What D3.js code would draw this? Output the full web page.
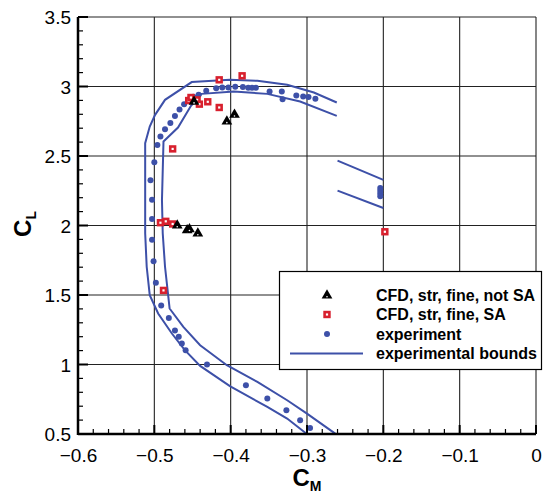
<!DOCTYPE html>
<html>
<head>
<meta charset="utf-8">
<script src="https://cdn.jsdelivr.net/npm/d3@7"></script>
<style>
  body { margin: 0; background: #fff; }
  svg text { font-family: "Liberation Sans", Arial, Helvetica, sans-serif; }
</style>
</head>
<body>
<div id="graph"></div>
<script>
/* chart values */
const xTicks = [-0.6, -0.5, -0.4, -0.3, -0.2, -0.1, 0]
const yTicks = [0.5, 1, 1.5, 2, 2.5, 3, 3.5]

// CFD, str, fine, not SA  [CM, CL]
const cfdNotSA = [
    [-0.448, 2.895], [-0.405, 2.753], [-0.395, 2.801],
    [-0.470, 2.004], [-0.457, 1.970], [-0.454, 1.977], [-0.443, 1.946]
]

// CFD, str, fine, SA
const cfdSA = [
    [-0.415, 3.048], [-0.385, 3.077], [-0.455, 2.899], [-0.452, 2.921],
    [-0.444, 2.904], [-0.441, 2.873], [-0.430, 2.890], [-0.415, 2.849],
    [-0.476, 2.551], [-0.492, 2.020], [-0.485, 2.030], [-0.476, 2.011],
    [-0.488, 1.533], [-0.198, 1.955]
]

// experiment
const experiment = [
    [-0.496, 2.580], [-0.492, 2.640], [-0.486, 2.693], [-0.479, 2.738],
    [-0.473, 2.787], [-0.467, 2.834], [-0.461, 2.873], [-0.454, 2.909],
    [-0.449, 2.926], [-0.442, 2.940], [-0.432, 2.969], [-0.419, 2.988],
    [-0.411, 2.993], [-0.403, 2.993], [-0.394, 2.998], [-0.384, 2.996],
    [-0.377, 2.991], [-0.372, 2.991], [-0.367, 2.991], [-0.349, 2.964],
    [-0.333, 2.964], [-0.332, 2.909], [-0.314, 2.935], [-0.305, 2.928],
    [-0.298, 2.924], [-0.289, 2.911],
    [-0.500, 2.455], [-0.505, 2.326], [-0.503, 2.186], [-0.503, 2.047],
    [-0.503, 1.898], [-0.501, 1.742], [-0.498, 1.588], [-0.491, 1.425],
    [-0.481, 1.334], [-0.473, 1.245], [-0.468, 1.199], [-0.464, 1.151],
    [-0.459, 1.103], [-0.431, 1.000], [-0.380, 0.851], [-0.352, 0.755],
    [-0.327, 0.671], [-0.309, 0.599], [-0.296, 0.543],
    [-0.204, 2.270], [-0.204, 2.250], [-0.204, 2.230], [-0.204, 2.210]
]

// experimental bounds (each one a polyline)
const boundOuter = [
    [-0.261, 2.885], [-0.291, 2.957], [-0.326, 3.012], [-0.365, 3.041],
    [-0.401, 3.048], [-0.451, 3.032], [-0.486, 2.904], [-0.499, 2.796],
    [-0.506, 2.712], [-0.512, 2.592], [-0.512, 2.184], [-0.512, 1.944],
    [-0.510, 1.703], [-0.506, 1.499], [-0.495, 1.367], [-0.477, 1.223],
    [-0.460, 1.103], [-0.440, 0.990], [-0.401, 0.844], [-0.352, 0.695],
    [-0.326, 0.611], [-0.301, 0.503]
]
const boundInner = [
    [-0.261, 2.789], [-0.309, 2.892], [-0.352, 2.947], [-0.396, 2.964],
    [-0.438, 2.947], [-0.452, 2.861], [-0.469, 2.705], [-0.488, 2.604],
    [-0.490, 2.184], [-0.489, 1.944], [-0.486, 1.703], [-0.480, 1.403],
    [-0.462, 1.271], [-0.440, 1.139], [-0.405, 0.995], [-0.365, 0.875],
    [-0.326, 0.743], [-0.300, 0.647], [-0.263, 0.503]
]
const boundRightUpper = [[-0.260, 2.467], [-0.200, 2.328]]
const boundRightLower = [[-0.260, 2.251], [-0.200, 2.126]]

const legendItems = [
    { text: "CFD, str, fine, not SA", kind: "tri" },
    { text: "CFD, str, fine, SA", kind: "sq" },
    { text: "experiment", kind: "dot" },
    { text: "experimental bounds", kind: "line" }
]

const W = 545, H = 494
const blue = "#3d50a8"
const red = "#d8202e"

const svg = d3.select("#graph").append("svg").attr("width", W).attr("height", H)

const x = d3.scaleLinear().domain([-0.6, 0]).range([78, 536])
const y = d3.scaleLinear().domain([0.5, 3.5]).range([434, 17])

/* grid */
svg.append("g").selectAll("line").data(xTicks).enter().append("line")
    .attr("x1", d => x(d)).attr("x2", d => x(d))
    .attr("y1", y(0.5)).attr("y2", y(3.5))
    .attr("stroke", "#222").attr("stroke-width", 1.1)
svg.append("g").selectAll("line").data(yTicks).enter().append("line")
    .attr("x1", x(-0.6)).attr("x2", x(0))
    .attr("y1", d => y(d)).attr("y2", d => y(d))
    .attr("stroke", "#222").attr("stroke-width", 1.1)

/* bounds */
const line = d3.line().x(d => x(d[0])).y(d => y(d[1]))
const bounds = [boundOuter, boundInner, boundRightUpper, boundRightLower]
svg.append("g").selectAll("path").data(bounds).enter().append("path")
    .attr("d", line)
    .attr("fill", "none")
    .attr("stroke", blue)
    .attr("stroke-width", 2)

/* markers */
function drawTri(g, cx, cy) {
    g.append("path")
        .attr("d", d3.symbol().type(d3.symbolTriangle).size(50)())
        .attr("transform", "translate(" + cx + "," + (cy + 0.5) + ")")
        .attr("fill", "#000")
    g.append("circle").attr("cx", cx).attr("cy", cy + 1.8).attr("r", 0.8).attr("fill", "#fff")
}
function drawSq(g, cx, cy) {
    g.append("rect")
        .attr("x", cx - 2.4).attr("y", cy - 2.4)
        .attr("width", 4.8).attr("height", 4.8)
        .attr("fill", "#fff").attr("stroke", red).attr("stroke-width", 2.6)
}
function drawDot(g, cx, cy) {
    g.append("circle").attr("cx", cx).attr("cy", cy).attr("r", 3).attr("fill", blue)
}

const dots = svg.append("g")
experiment.forEach(d => drawDot(dots, x(d[0]), y(d[1])))
const sqs = svg.append("g")
cfdSA.forEach(d => drawSq(sqs, x(d[0]), y(d[1])))
const tris = svg.append("g")
cfdNotSA.forEach(d => drawTri(tris, x(d[0]), y(d[1])))

/* axes */
const xAxis = d3.axisBottom(x).tickValues(xTicks).tickSize(0).tickFormat(d => d === 0 ? "0" : d3.format(".1f")(d))
const gx = svg.append("g").attr("transform", "translate(0," + y(0.5) + ")").call(xAxis)
gx.select(".domain").remove()
gx.selectAll("text").attr("dy", 0).attr("y", 28).style("font-size", "19px").attr("fill", "#000")

const yAxis = d3.axisLeft(y).tickValues(yTicks).tickSize(0).tickFormat(d => d3.format("")(d))
const gy = svg.append("g").attr("transform", "translate(" + x(-0.6) + ",0)").call(yAxis)
gy.select(".domain").remove()
gy.selectAll("text").attr("x", -7).attr("dy", "0.36em").style("font-size", "19px").attr("fill", "#000")

// minor and major ticks pointing inward
const xMinor = d3.range(-0.6, 0.0001, 0.02)
svg.append("g").selectAll("line").data(xMinor).enter().append("line")
    .attr("x1", d => x(d)).attr("x2", d => x(d))
    .attr("y1", y(0.5)).attr("y2", (d, i) => y(0.5) - (i % 5 === 0 ? 9 : 5))
    .attr("stroke", "#000").attr("stroke-width", (d, i) => i % 5 === 0 ? 2 : 1.2)
const yMinor = d3.range(0.5, 3.5001, 0.1)
svg.append("g").selectAll("line").data(yMinor).enter().append("line")
    .attr("x1", x(-0.6)).attr("x2", (d, i) => x(-0.6) + (i % 5 === 0 ? 10 : 5))
    .attr("y1", d => y(d)).attr("y2", d => y(d))
    .attr("stroke", "#000").attr("stroke-width", (d, i) => i % 5 === 0 ? 2 : 1.2)

svg.append("line").attr("x1", x(-0.6)).attr("x2", x(0)).attr("y1", y(0.5)).attr("y2", y(0.5))
    .attr("stroke", "#000").attr("stroke-width", 2.5)
svg.append("line").attr("x1", x(-0.6)).attr("x2", x(-0.6)).attr("y1", y(0.5) + 1).attr("y2", y(3.5))
    .attr("stroke", "#000").attr("stroke-width", 2.5)

/* axis titles */
const tx = svg.append("text").attr("x", 307).attr("y", 486)
    .attr("text-anchor", "middle").style("font-weight", "bold")
tx.append("tspan").style("font-size", "24px").text("C")
tx.append("tspan").style("font-size", "14px").attr("dy", 5).text("M")

const ty = svg.append("text").attr("transform", "translate(31,224) rotate(-90)")
    .attr("text-anchor", "middle").style("font-weight", "bold")
ty.append("tspan").style("font-size", "24px").text("C")
ty.append("tspan").style("font-size", "14px").attr("dy", 5).text("L")

/* legend */
const lg = svg.append("g").attr("id", "legend")
lg.append("rect").attr("x", 279.5).attr("y", 271.5).attr("width", 262).attr("height", 98)
    .attr("fill", "#fff").attr("stroke", "#000").attr("stroke-width", 1.2)
legendItems.forEach((d, i) => {
    const ly = 295 + i * 19.5
    if (d.kind === "tri") drawTri(lg, 327, ly)
    if (d.kind === "sq") drawSq(lg, 327, ly)
    if (d.kind === "dot") drawDot(lg, 327, ly)
    if (d.kind === "line") {
        lg.append("line").attr("x1", 290).attr("x2", 363).attr("y1", ly).attr("y2", ly)
            .attr("stroke", blue).attr("stroke-width", 2)
    }
    lg.append("text").attr("x", 376).attr("y", ly).attr("dy", "0.36em")
        .style("font-size", "16px").style("font-weight", "bold").text(d.text)
})
</script>
</body>
</html>
